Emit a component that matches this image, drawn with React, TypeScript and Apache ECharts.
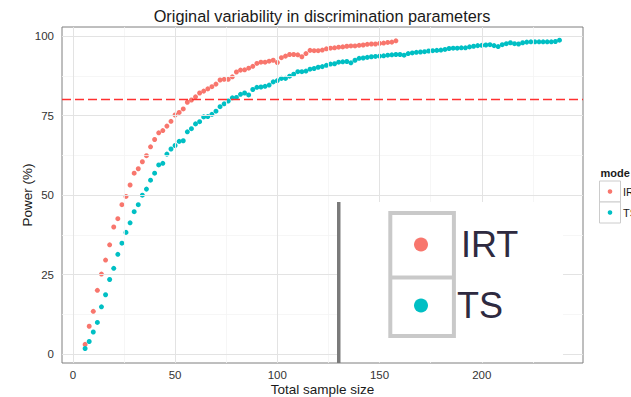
import React, { useEffect, useRef } from "react";
import * as echarts from "echarts";

const sampleSize = [
  6, 8, 10, 12, 14, 16, 18, 20, 22, 24, 26, 28, 30, 32, 34, 36, 38, 40, 42, 44,
  46, 48, 50, 52, 54, 56, 58, 60, 62, 64, 66, 68, 70, 72, 74, 76, 78, 80, 82, 84,
  86, 88, 90, 92, 94, 96, 98, 100, 102, 104, 106, 108, 110, 112, 114, 116, 118, 120, 122, 124,
  126, 128, 130, 132, 134, 136, 138, 140, 142, 144, 146, 148, 150, 152, 154, 156, 158, 160, 162, 164,
  166, 168, 170, 172, 174, 176, 178, 180, 182, 184, 186, 188, 190, 192, 194, 196, 198, 200, 202, 204,
  206, 208, 210, 212, 214, 216, 218, 220, 222, 224, 226, 228, 230, 232, 234, 236, 238,
];

const powerIRT = [
  3.1, 8.8, 13.5, 20.1, 25.2, 29.6, 34.4, 40.0, 42.6, 47.0, 49.6,
  53.2, 56.9, 58.3, 60.5, 62.4, 65.2, 67.5, 69.6, 70.3, 71.7, 73.2, 75.2,
  76.0, 77.1, 79.2, 79.9, 80.9, 82.1, 82.7, 83.4, 84.1, 84.9,
  86.2, 86.4, 86.4, 87.2, 88.7, 89.3, 89.4, 89.9, 90.5, 91.4,
  91.8, 91.8, 92.1, 92.4, 91.7,
  93.2, 93.7, 94.2, 94.2, 94.1, 93.5, 94.5, 95.5, 95.4, 95.4,
  95.6, 96.0, 96.2, 96.3, 96.5, 96.6, 96.8, 96.9, 96.9, 97.1,
  97.2, 97.4, 97.5, 97.5, 97.7, 97.8, 98.0, 98.1, 98.5,
];

const powerTS = [
  1.8, 4.0, 7.0, 10.0, 14.9, 18.7, 23.5, 27.0, 31.4, 34.9, 38.3, 41.3, 44.8, 47.0, 50.0,
  51.9, 54.7, 56.9, 59.5, 60.0, 62.9, 64.5, 65.6, 66.9, 67.1,
  69.9, 70.9, 72.4, 73.1, 74.6, 74.7, 75.4, 76.4, 77.8, 78.7,
  79.6, 80.6, 80.7, 81.7, 82.1, 81.5,
  83.2, 83.9, 84.0, 84.2, 84.6, 85.6, 86.0, 86.7, 86.7, 87.4, 88.0, 88.8, 88.8, 89.0, 89.6, 89.8, 90.2,
  90.4, 90.8, 91.2, 91.3, 91.8, 91.9, 92.0, 91.6, 92.4, 93.0,
  93.1, 93.3, 93.5, 93.6, 93.7, 93.8, 94.0, 94.1, 94.2, 94.2,
  94.0, 94.5, 94.7, 94.9, 95.0, 95.1, 95.3, 95.4, 95.5, 95.6,
  95.8, 96.1, 96.2, 96.2, 96.3, 96.3, 96.6, 96.8, 97.0, 97.1,
  97.2, 97.3, 97.0, 96.7, 97.3, 97.6, 97.9, 97.6, 97.5, 97.9,
  98.1, 98.2, 98.2, 98.2, 98.2, 98.2, 98.2, 98.3, 98.7,
];

const xMajorTicks = [0, 50, 100, 150, 200];
const xMinorTicks = [25, 75, 125, 175, 225];
const yMajorTicks = [0, 25, 50, 75, 100];
const yMinorTicks = [12.5, 37.5, 62.5, 87.5];
const targetPower = 80;
const modes = ["IRT", "TS"];
const modeColors = ["#F8766D", "#00BFC4"];

const titleText = "Original variability in discrimination parameters";
const xTitle = "Total sample size";
const yTitle = "Power (%)";
const legendTitle = "mode";

const FONT = "'Liberation Sans', Arial, Helvetica, sans-serif";

function txt(text: string, x: number, y: number, size: number, opts: any = {}) {
  const align = opts.align || "center";
  return {
    type: "text",
    x,
    y,
    rotation: opts.rotation || 0,
    z: 100,
    silent: true,
    style: {
      text,
      x: 0,
      y: 0,
      fill: opts.color || "#1a1a1a",
      font: `${opts.weight || "normal"} ${size}px ${FONT}`,
      align,
      verticalAlign: "middle",
      textAlign: align,
      textVerticalAlign: "middle",
    },
  };
}

export default function App() {
  const ref = useRef<HTMLDivElement>(null);

  useEffect(() => {
    if (!ref.current) return;
    const chart = echarts.init(ref.current, null, { renderer: "svg" });

    const majorStyle = { color: "#e3e3e3", width: 1, type: "solid" };
    const minorStyle = { color: "#f4f4f4", width: 0.8, type: "solid" };
    const gridLines: any[] = [
      ...xMinorTicks.map((v) => ({ xAxis: v, lineStyle: minorStyle })),
      ...yMinorTicks.map((v) => ({ yAxis: v, lineStyle: minorStyle })),
      ...xMajorTicks.map((v) => ({ xAxis: v, lineStyle: majorStyle })),
      ...yMajorTicks.map((v) => ({ yAxis: v, lineStyle: majorStyle })),
    ];

    const axisCommon = {
      type: "value",
      axisLine: { show: false },
      splitLine: { show: false },
      minorSplitLine: { show: false },
    };

    const graphic: any[] = [
      txt(titleText, 322, 16, 16.3),
      txt(xTitle, 322.5, 389, 13.5),
      txt(yTitle, 27, 195, 13.5, { rotation: Math.PI / 2 }),
      // legend
      txt(legendTitle, 600.5, 173, 11, { align: "left", weight: "bold" }),
      ...modes.flatMap((m, i) => [
        {
          type: "rect",
          z: 100,
          silent: true,
          shape: { x: 599.5, y: 181 + i * 21, width: 21, height: 21 },
          style: { fill: "#ffffff", stroke: "#cccccc", lineWidth: 1 },
        },
        {
          type: "circle",
          z: 101,
          silent: true,
          shape: { cx: 610, cy: 191.5 + i * 21, r: 2.3 },
          style: { fill: modeColors[i] },
        },
        txt(m, 623, 191.5 + i * 21, 11, { align: "left" }),
      ]),
      // enlarged legend inset
      {
        type: "rect",
        z: 100,
        silent: true,
        shape: { x: 340, y: 202, width: 223, height: 160 },
        style: { fill: "#ffffff" },
      },
      {
        type: "rect",
        z: 101,
        silent: true,
        shape: { x: 337, y: 202, width: 3.5, height: 161 },
        style: { fill: "#7a7a7a" },
      },
      {
        type: "rect",
        z: 101,
        silent: true,
        shape: { x: 390.3, y: 213, width: 63.6, height: 123 },
        style: { fill: "#ffffff", stroke: "#c9c9c9", lineWidth: 4 },
      },
      {
        type: "line",
        z: 102,
        silent: true,
        shape: { x1: 390.3, y1: 277.5, x2: 453.9, y2: 277.5 },
        style: { stroke: "#c9c9c9", lineWidth: 4 },
      },
      ...modes.flatMap((m, i) => [
        {
          type: "circle",
          z: 103,
          silent: true,
          shape: { cx: 421, cy: 244.5 + i * 61, r: 7 },
          style: { fill: modeColors[i] },
        },
        txt(m, i === 0 ? 461 : 457, 244.5 + i * 61, 36, { align: "left", color: "#2e2a40" }),
      ]),
    ];

    const option: any = {
      animation: false,
      grid: {
        left: 62,
        right: 48,
        top: 27,
        bottom: 34,
        show: true,
        borderColor: "#7f7f7f",
        borderWidth: 1,
        backgroundColor: "#ffffff",
      },
      xAxis: {
        ...axisCommon,
        min: -5.3,
        max: 249.5,
        axisTick: { show: true, customValues: xMajorTicks, length: 4, lineStyle: { color: "#555555" } },
        axisLabel: { customValues: xMajorTicks, margin: 6, color: "#333333", fontSize: 11.5, fontFamily: FONT },
      },
      yAxis: {
        ...axisCommon,
        min: -2.75,
        max: 102.85,
        axisTick: { show: true, customValues: yMajorTicks, length: 4, lineStyle: { color: "#555555" } },
        axisLabel: { customValues: yMajorTicks, margin: 8, color: "#333333", fontSize: 11.5, fontFamily: FONT },
      },
      series: [
        {
          type: "scatter",
          name: "gridlines",
          data: [],
          z: 0,
          silent: true,
          markLine: {
            silent: true,
            symbol: ["none", "none"],
            label: { show: false },
            animation: false,
            data: gridLines,
          },
        },
        ...modes.map((m, i) => ({
          type: "scatter",
          name: m,
          data: (i === 0 ? powerIRT : powerTS).map((p, j) => [sampleSize[j], p]),
          symbol: "circle",
          symbolSize: 5,
          itemStyle: { color: modeColors[i], opacity: 1 },
          z: 3,
          silent: true,
        })),
        {
          type: "scatter",
          name: "target",
          data: [],
          z: 10,
          silent: true,
          markLine: {
            silent: true,
            symbol: ["none", "none"],
            label: { show: false },
            animation: false,
            lineStyle: { color: "#ff3030", type: [9, 4], width: 1.4, opacity: 1 },
            emphasis: { disabled: true },
            data: [{ yAxis: targetPower }],
          },
        },
      ],
      graphic,
    };

    chart.setOption(option);
    return () => chart.dispose();
  }, []);

  return (
    <div
      ref={ref}
      style={{ position: "fixed", left: 0, top: 0, width: 631, height: 397, background: "#ffffff" }}
    />
  );
}
